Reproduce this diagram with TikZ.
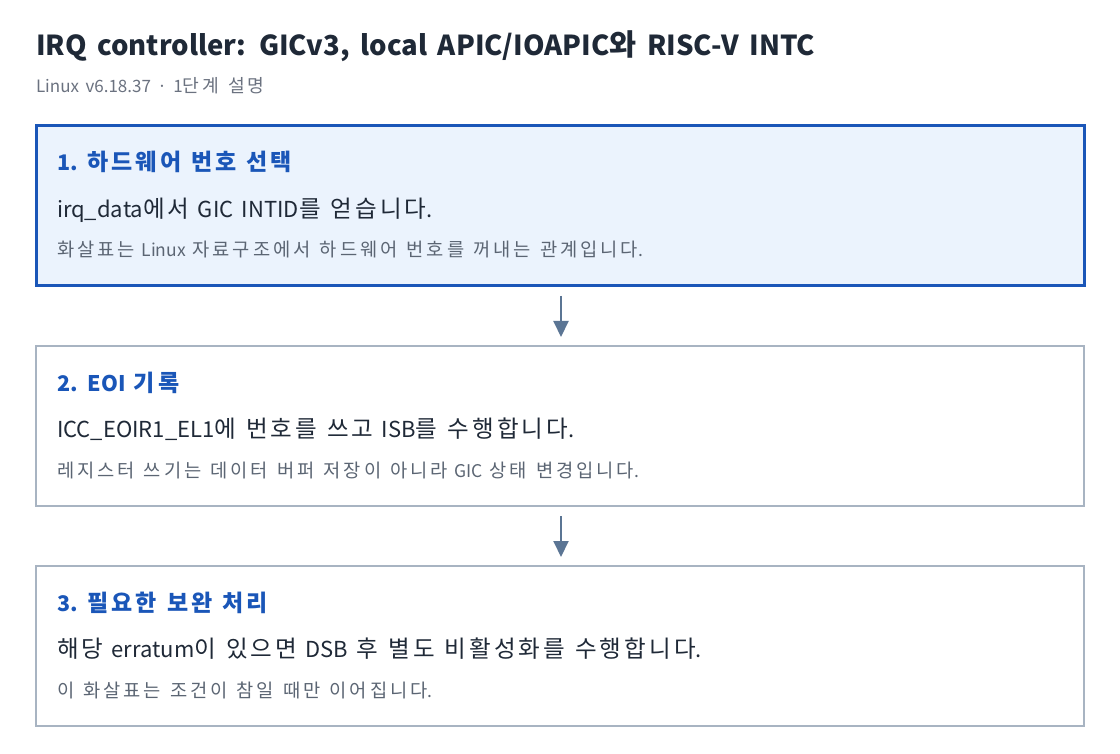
\documentclass[tikz,border=0pt]{standalone}
\usepackage{fontspec}
\setmainfont{Noto Sans CJK KR}[WordSpace=1.7]
\newfontfamily\kobodyfont{Noto Sans CJK KR}[Scale=1.07, LetterSpace=13, WordSpace=1.2]
\newfontfamily\konotefont{Noto Sans CJK KR}[Scale=1.07, LetterSpace=16, WordSpace=1.25]
\let\kocur\kobodyfont
\newcommand{\hg}[1]{{\kocur #1}}
\usetikzlibrary{arrows.meta}
\definecolor{titlec}{HTML}{1F2937}
\definecolor{subc}{HTML}{6B7280}
\definecolor{headc}{HTML}{1A56B8}
\definecolor{bodyc}{HTML}{1F2937}
\definecolor{notec}{HTML}{5B6573}
\definecolor{fillA}{HTML}{EBF3FD}
\definecolor{lineB}{HTML}{A8B4C2}
\definecolor{arrc}{HTML}{5B7594}
\tikzset{
  boxA/.style={draw=headc, line width=3pt, fill=fillA, minimum width=1048pt, minimum height=160pt, outer sep=0pt, inner sep=0pt},
  boxB/.style={draw=lineB, line width=1.3pt, fill=white, minimum width=1048pt, minimum height=160pt, outer sep=0pt, inner sep=0pt},
  txt/.style={anchor=base west, inner sep=0pt, outer sep=0pt},
  ttl/.style={txt, text=titlec, font=\fontsize{27.5}{32}\selectfont\bfseries},
  sub/.style={txt, text=subc, font=\fontsize{17}{20}\selectfont\let\kocur\konotefont},
  head/.style={txt, text=headc, font=\fontsize{21.5}{26}\selectfont\bfseries},
  body/.style={txt, text=bodyc, font=\fontsize{22}{26}\selectfont},
  note/.style={txt, text=notec, font=\fontsize{17.5}{21}\selectfont\let\kocur\konotefont},
  arr/.style={draw=arrc, line width=2pt, -{Triangle[width=15pt,length=16pt]}}
}
\begin{document}
\begin{tikzpicture}[x=1pt,y=-1pt]
\useasboundingbox[fill=white] (0,0) rectangle (1120,754);
\node[ttl] (title) at (36,56) {IRQ controller: GICv3, local APIC/IOAPIC\hg{와} RISC-V INTC};
\node[sub] (subtitle) at (36,93) {Linux v6.18.37 · 1\hg{단계 설명}};

\node[boxA] (b1) at (560,206) {};
\node[boxB] (b2) at (560,426) {};
\node[boxB] (b3) at (560,646) {};

\node[head] (h1) at (57,171) {1. \hg{하드웨어 번호 선택}};
\node[body] (t1) at (57,218) {irq\_data\hg{에서} GIC INTID\hg{를 얻습니다}.};
\node[note] (n1) at (57,257) {\hg{화살표는} Linux \hg{자료구조에서 하드웨어 번호를 꺼내는 관계입니다}.};

\node[head] (h2) at (57,391) {2. EOI \hg{기록}};
\node[body] (t2) at (57,437) {ICC\_EOIR1\_EL1\hg{에 번호를 쓰고} ISB\hg{를 수행합니다}.};
\node[note] (n2) at (57,477) {\hg{레지스터 쓰기는 데이터 버퍼 저장이 아니라} GIC \hg{상태 변경입니다}.};

\node[head] (h3) at (57,611) {3. \hg{필요한 보완 처리}};
\node[body] (t3) at (57,657) {\hg{해당} erratum\hg{이 있으면} DSB \hg{후 별도 비활성화를 수행합니다}.};
\node[note] (n3) at (57,697) {\hg{이 화살표는 조건이 참일 때만 이어집니다}.};

\draw[arr] ([xshift=1pt,yshift=-10pt]b1.south) -- ([xshift=1pt,yshift=9pt]b2.north);
\draw[arr] ([xshift=1pt,yshift=-10pt]b2.south) -- ([xshift=1pt,yshift=9pt]b3.north);
\end{tikzpicture}
\end{document}
